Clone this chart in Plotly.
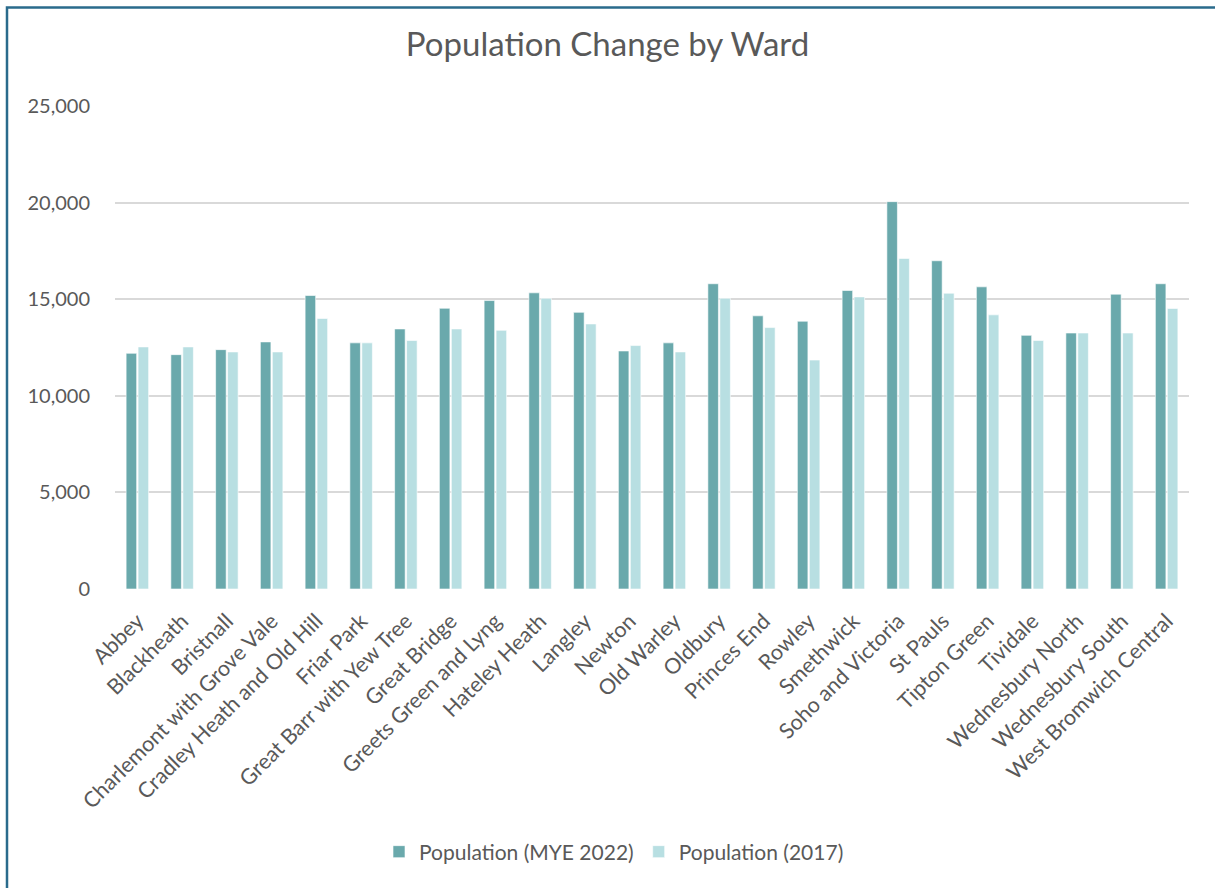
import plotly.graph_objects as go

wards = [
    "Abbey", "Blackheath", "Bristnall", "Charlemont with Grove Vale",
    "Cradley Heath and Old Hill", "Friar Park", "Great Barr with Yew Tree",
    "Great Bridge", "Greets Green and Lyng", "Hateley Heath", "Langley",
    "Newton", "Old Warley", "Oldbury", "Princes End", "Rowley", "Smethwick",
    "Soho and Victoria", "St Pauls", "Tipton Green", "Tividale",
    "Wednesbury North", "Wednesbury South", "West Bromwich Central",
]

pop_2022 = [
    12200, 12130, 12390, 12790, 15190, 12740, 13460, 14530, 14930, 15330,
    14320, 12320, 12740, 15800, 14140, 13860, 15450, 20050, 16990, 15640,
    13130, 13250, 15260, 15800,
]

pop_2017 = [
    12530, 12530, 12270, 12270, 14000, 12740, 12860, 13460, 13390, 15050,
    13720, 12600, 12270, 15050, 13530, 11850, 15120, 17110, 15310, 14190,
    12860, 13250, 13250, 14520,
]

y_ticks = [0, 5000, 10000, 15000, 20000, 25000]
y_tick_text = ["0", "5,000", "10,000", "15,000", "20,000", "25,000"]

FONT = "Lato"
TEXT = "#595959"

fig = go.Figure()
fig.add_trace(go.Bar(
    name="Population (MYE 2022)", x=wards, y=pop_2022,
    marker=dict(color="#6AA9AC", line=dict(color="rgba(255,255,255,0.6)", width=1)),
))
fig.add_trace(go.Bar(
    name="Population (2017)", x=wards, y=pop_2017,
    marker=dict(color="#B8DFE2", line=dict(color="rgba(255,255,255,0.6)", width=1)),
))

W, H = 1215, 888
ml, mr, mt, mb = 115, 26, 106, 299
pw, ph = W - ml - mr, H - mt - mb


def px(x):
    return (x - ml) / pw


def py(y):
    return (H - mb - y) / ph


fig.update_layout(
    width=W, height=H,
    margin=dict(l=ml, r=mr, t=mt, b=mb),
    paper_bgcolor="white", plot_bgcolor="white",
    font=dict(family=FONT, color=TEXT, size=20),
    barmode="group", bargap=0.465, bargroupgap=0.12,
    title=dict(text="Population Change by Ward", x=0.5, xanchor="center",
               y=1 - 44 / H, yanchor="middle",
               font=dict(family=FONT, size=33, color=TEXT)),
    legend=dict(orientation="h", x=px(614), xanchor="center",
                y=py(852), yanchor="middle",
                font=dict(family=FONT, size=21, color=TEXT),
                itemwidth=30, traceorder="normal"),
    xaxis=dict(
        tickangle=-45, showgrid=False, showline=False, zeroline=False,
        ticks="outside", ticklen=10, tickcolor="rgba(0,0,0,0)",
        tickfont=dict(family=FONT, size=21.5, color=TEXT),
    ),
    yaxis=dict(
        range=[0, 25000], tickvals=y_ticks, ticktext=y_tick_text,
        showgrid=True, gridcolor="#D9D9D9", gridwidth=1.5,
        zeroline=False, showline=False,
        ticks="outside", ticklen=20, tickcolor="rgba(0,0,0,0)",
        tickfont=dict(family=FONT, size=20, color=TEXT),
    ),
    shapes=[
        dict(type="path", xref="paper", yref="paper",
             path=f"M {px(7)} {py(H + 5)} L {px(7)} {py(7.5)} L {px(W + 5)} {py(7.5)}",
             line=dict(color="#2A6B8C", width=2.5)),
    ],
)

fig.write_html("out.html")
